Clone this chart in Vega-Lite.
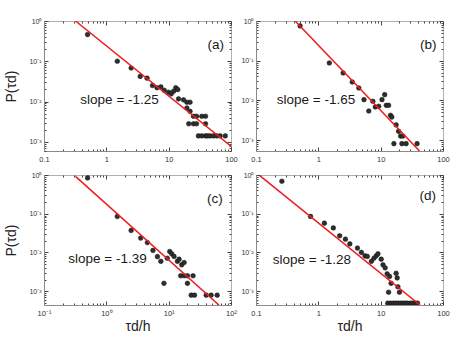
{
  "$schema": "https://vega.github.io/schema/vega-lite/v6.json",
  "padding": {"left": 4, "top": 16, "right": 5, "bottom": 5},
  "background": "white",
  "config": {
    "font": "Liberation Sans",
    "view": {"stroke": "#b0b0b0", "strokeWidth": 1},
    "axis": {"grid": false, "labelColor": "#333", "tickColor": "#444", "domainColor": "#8a8a8a", "titleColor": "#222", "titleFontWeight": "normal", "labelFont": "Liberation Sans", "titleFont": "Liberation Sans"}
  },
  "datasets": {
    "pts": [
      {"panel": "a", "t": 0.5, "p": 0.46}, {"panel": "a", "t": 1.5, "p": 0.1}, {"panel": "a", "t": 2.5, "p": 0.068}, {"panel": "a", "t": 3.5, "p": 0.042}, {"panel": "a", "t": 4.5, "p": 0.038}, {"panel": "a", "t": 5.5, "p": 0.025}, {"panel": "a", "t": 6.5, "p": 0.022}, {"panel": "a", "t": 7.5, "p": 0.023}, {"panel": "a", "t": 8.5, "p": 0.019}, {"panel": "a", "t": 10, "p": 0.017}, {"panel": "a", "t": 11, "p": 0.0155}, {"panel": "a", "t": 12, "p": 0.018}, {"panel": "a", "t": 13, "p": 0.022}, {"panel": "a", "t": 14, "p": 0.0198}, {"panel": "a", "t": 14.4, "p": 0.0116}, {"panel": "a", "t": 17.3, "p": 0.011}, {"panel": "a", "t": 19.6, "p": 0.0096}, {"panel": "a", "t": 22, "p": 0.0096}, {"panel": "a", "t": 19.6, "p": 0.0069}, {"panel": "a", "t": 22, "p": 0.0057}, {"panel": "a", "t": 25, "p": 0.0043}, {"panel": "a", "t": 28, "p": 0.0043}, {"panel": "a", "t": 34, "p": 0.0043}, {"panel": "a", "t": 39, "p": 0.0043}, {"panel": "a", "t": 21, "p": 0.0028}, {"panel": "a", "t": 25, "p": 0.0028}, {"panel": "a", "t": 28, "p": 0.0028}, {"panel": "a", "t": 39, "p": 0.0028}, {"panel": "a", "t": 30, "p": 0.0014}, {"panel": "a", "t": 34, "p": 0.0014}, {"panel": "a", "t": 39, "p": 0.0014}, {"panel": "a", "t": 42, "p": 0.0014}, {"panel": "a", "t": 46, "p": 0.0014}, {"panel": "a", "t": 52, "p": 0.0014}, {"panel": "a", "t": 59, "p": 0.0014}, {"panel": "a", "t": 67, "p": 0.0014}, {"panel": "a", "t": 81, "p": 0.0014},
      {"panel": "b", "t": 0.51, "p": 0.75}, {"panel": "b", "t": 1.5, "p": 0.0875}, {"panel": "b", "t": 2.5, "p": 0.049}, {"panel": "b", "t": 3.5, "p": 0.029}, {"panel": "b", "t": 4.46, "p": 0.0205}, {"panel": "b", "t": 5.4, "p": 0.0104}, {"panel": "b", "t": 6.45, "p": 0.0054}, {"panel": "b", "t": 7.5, "p": 0.0095}, {"panel": "b", "t": 8.2, "p": 0.0068}, {"panel": "b", "t": 9.3, "p": 0.0071}, {"panel": "b", "t": 10.5, "p": 0.0104}, {"panel": "b", "t": 11.6, "p": 0.0139}, {"panel": "b", "t": 12.3, "p": 0.0075}, {"panel": "b", "t": 13.4, "p": 0.0075}, {"panel": "b", "t": 14.4, "p": 0.0042}, {"panel": "b", "t": 15.1, "p": 0.0038}, {"panel": "b", "t": 17.7, "p": 0.0024}, {"panel": "b", "t": 19.4, "p": 0.00166}, {"panel": "b", "t": 20.9, "p": 0.00126}, {"panel": "b", "t": 22.7, "p": 0.00126}, {"panel": "b", "t": 16.3, "p": 0.00081}, {"panel": "b", "t": 21.9, "p": 0.00081}, {"panel": "b", "t": 25.6, "p": 0.00081}, {"panel": "b", "t": 38.4, "p": 0.00081},
      {"panel": "c", "t": 0.5, "p": 0.84}, {"panel": "c", "t": 1.5, "p": 0.085}, {"panel": "c", "t": 2.5, "p": 0.037}, {"panel": "c", "t": 3.56, "p": 0.0235}, {"panel": "c", "t": 4.55, "p": 0.018}, {"panel": "c", "t": 5.6, "p": 0.0113}, {"panel": "c", "t": 6.6, "p": 0.0078}, {"panel": "c", "t": 7.5, "p": 0.0059}, {"panel": "c", "t": 8.4, "p": 0.0016}, {"panel": "c", "t": 9.5, "p": 0.0071}, {"panel": "c", "t": 10.4, "p": 0.0106}, {"panel": "c", "t": 11.2, "p": 0.0092}, {"panel": "c", "t": 12.2, "p": 0.0079}, {"panel": "c", "t": 13.8, "p": 0.0059}, {"panel": "c", "t": 14.7, "p": 0.0067}, {"panel": "c", "t": 16.2, "p": 0.0048}, {"panel": "c", "t": 17.7, "p": 0.0055}, {"panel": "c", "t": 15.6, "p": 0.0025}, {"panel": "c", "t": 17.7, "p": 0.0025}, {"panel": "c", "t": 20, "p": 0.0025}, {"panel": "c", "t": 24.6, "p": 0.0025}, {"panel": "c", "t": 20, "p": 0.0016}, {"panel": "c", "t": 23, "p": 0.00079}, {"panel": "c", "t": 26, "p": 0.00079}, {"panel": "c", "t": 40, "p": 0.00079}, {"panel": "c", "t": 48, "p": 0.00079}, {"panel": "c", "t": 60, "p": 0.00079},
      {"panel": "d", "t": 0.26, "p": 0.69}, {"panel": "d", "t": 0.75, "p": 0.085}, {"panel": "d", "t": 1.25, "p": 0.057}, {"panel": "d", "t": 1.74, "p": 0.043}, {"panel": "d", "t": 2.2, "p": 0.027}, {"panel": "d", "t": 2.72, "p": 0.022}, {"panel": "d", "t": 3.2, "p": 0.0166}, {"panel": "d", "t": 4.24, "p": 0.013}, {"panel": "d", "t": 4.9, "p": 0.01}, {"panel": "d", "t": 5.6, "p": 0.0082}, {"panel": "d", "t": 6.1, "p": 0.0079}, {"panel": "d", "t": 7.1, "p": 0.0059}, {"panel": "d", "t": 7.8, "p": 0.0071}, {"panel": "d", "t": 8.5, "p": 0.0082}, {"panel": "d", "t": 9.05, "p": 0.0092}, {"panel": "d", "t": 10.2, "p": 0.0067}, {"panel": "d", "t": 10.9, "p": 0.0048}, {"panel": "d", "t": 11.8, "p": 0.004}, {"panel": "d", "t": 12.7, "p": 0.0028}, {"panel": "d", "t": 13.9, "p": 0.0024}, {"panel": "d", "t": 14.7, "p": 0.0016}, {"panel": "d", "t": 13.4, "p": 0.00094}, {"panel": "d", "t": 17.7, "p": 0.0029}, {"panel": "d", "t": 18.4, "p": 0.0022}, {"panel": "d", "t": 18.9, "p": 0.0013}, {"panel": "d", "t": 20, "p": 0.00094}, {"panel": "d", "t": 13, "p": 0.00049}, {"panel": "d", "t": 14.5, "p": 0.00049}, {"panel": "d", "t": 16, "p": 0.00049}, {"panel": "d", "t": 17.5, "p": 0.00049}, {"panel": "d", "t": 19, "p": 0.00049}, {"panel": "d", "t": 21, "p": 0.00049}, {"panel": "d", "t": 23, "p": 0.00049}, {"panel": "d", "t": 25, "p": 0.00049}, {"panel": "d", "t": 27, "p": 0.00049}, {"panel": "d", "t": 30, "p": 0.00049}, {"panel": "d", "t": 33, "p": 0.00049}, {"panel": "d", "t": 36, "p": 0.00049}, {"panel": "d", "t": 39, "p": 0.00049}
    ],
    "fit": [
      {"panel": "a", "t": 0.32, "p": 1.0}, {"panel": "a", "t": 100, "p": 0.00078},
      {"panel": "b", "t": 0.425, "p": 1.0}, {"panel": "b", "t": 42, "p": 0.00053},
      {"panel": "c", "t": 0.32, "p": 0.92}, {"panel": "c", "t": 64, "p": 0.00044},
      {"panel": "d", "t": 0.115, "p": 0.96}, {"panel": "d", "t": 42.8, "p": 0.00044}
    ],
    "notes": [
      {"panel": "a", "t": 0.383, "p": 0.0111, "s": "slope = -1.25"}, {"panel": "a", "t": 42, "p": 0.258, "s": "(a)"},
      {"panel": "b", "t": 0.216, "p": 0.01, "s": "slope = -1.65"}, {"panel": "b", "t": 42.8, "p": 0.253, "s": "(b)"},
      {"panel": "c", "t": 0.245, "p": 0.00685, "s": "slope = -1.39"}, {"panel": "c", "t": 41.3, "p": 0.24, "s": "(c)"},
      {"panel": "d", "t": 0.185, "p": 0.00646, "s": "slope = -1.28"}, {"panel": "d", "t": 41.9, "p": 0.28, "s": "(d)"}
    ]
  },
  "columns": 2,
  "bounds": "flush",
  "spacing": {"row": 24, "column": 25},
  "concat": [
        {
          "width": 187, "height": 130,
          "resolve": {"axis": {"x": "independent", "y": "independent"}},
          "layer": [
            {
              "data": {"name": "pts"},
              "transform": [{"filter": "datum.panel == 'a'"}],
              "mark": {"type": "point", "filled": true, "size": 22, "fill": "#2e2e2e", "stroke": "#111", "strokeWidth": 0.5, "opacity": 1, "clip": true},
              "encoding": {
                "x": {"field": "t", "type": "quantitative", "scale": {"type": "log", "domain": [0.1, 100], "nice": false},
                  "axis": {"orient": "bottom", "title": null, "values": [0.1,0.2,0.3,0.4,0.5,0.6,0.7,0.8,0.9,1,2,3,4,5,6,7,8,9,10,20,30,40,50,60,70,80,90,100], "labelExpr": "datum.value==0.1?'0.1':datum.value==1?'1':datum.value==10?'10':datum.value==100?'100':''", "labelFlush": false, "labelFontSize": 7.5, "labelPadding": 8, "tickSize": {"condition": {"test": "abs(log(datum.value)/LN10-round(log(datum.value)/LN10))<0.001", "value": -4}, "value": -2}}},
                "y": {"field": "p", "type": "quantitative", "scale": {"type": "log", "domain": [0.00059, 1], "nice": false},
                  "axis": {"orient": "left", "title": "P(τd)", "titleFontSize": 14, "titlePadding": 10, "values": [0.0006,0.0007,0.0008,0.0009,0.001,0.002,0.003,0.004,0.005,0.006,0.007,0.008,0.009,0.01,0.02,0.03,0.04,0.05,0.06,0.07,0.08,0.09,0.1,0.2,0.3,0.4,0.5,0.6,0.7,0.8,0.9,1], "labelExpr": "datum.value==1?'10⁰':datum.value==0.1?'10⁻¹':datum.value==0.01?'10⁻²':datum.value==0.001?'10⁻³':''", "labelFontSize": 7, "labelPadding": 7, "tickSize": {"condition": {"test": "abs(log(datum.value)/LN10-round(log(datum.value)/LN10))<0.001", "value": -4}, "value": -2}}}
              }
            },
            {
              "data": {"name": "fit"},
              "transform": [{"filter": "datum.panel == 'a'"}],
              "mark": {"type": "line", "color": "#ee1c1c", "strokeWidth": 1.5, "clip": true},
              "encoding": {
                "x": {"field": "t", "type": "quantitative", "scale": {"type": "log", "domain": [0.1, 100], "nice": false},
                  "axis": {"orient": "top", "title": null, "labels": false, "domain": false, "values": [0.1,0.2,0.3,0.4,0.5,0.6,0.7,0.8,0.9,1,2,3,4,5,6,7,8,9,10,20,30,40,50,60,70,80,90,100], "tickSize": {"condition": {"test": "abs(log(datum.value)/LN10-round(log(datum.value)/LN10))<0.001", "value": -4}, "value": -2}}},
                "y": {"field": "p", "type": "quantitative", "scale": {"type": "log", "domain": [0.00059, 1], "nice": false},
                  "axis": {"orient": "right", "title": null, "labels": false, "domain": false, "values": [0.0006,0.0007,0.0008,0.0009,0.001,0.002,0.003,0.004,0.005,0.006,0.007,0.008,0.009,0.01,0.02,0.03,0.04,0.05,0.06,0.07,0.08,0.09,0.1,0.2,0.3,0.4,0.5,0.6,0.7,0.8,0.9,1], "tickSize": {"condition": {"test": "abs(log(datum.value)/LN10-round(log(datum.value)/LN10))<0.001", "value": -4}, "value": -2}}}
              }
            },
            {
              "data": {"name": "notes"},
              "transform": [{"filter": "datum.panel == 'a'"}],
              "mark": {"type": "text", "align": "left", "baseline": "middle", "fontSize": 13.5, "font": "Liberation Sans", "color": "#1a1a1a"},
              "encoding": {
                "x": {"field": "t", "type": "quantitative", "scale": {"type": "log", "domain": [0.1, 100], "nice": false}, "axis": null},
                "y": {"field": "p", "type": "quantitative", "scale": {"type": "log", "domain": [0.00059, 1], "nice": false}, "axis": null},
                "text": {"field": "s"}
              }
            }
          ]
        },
        {
          "width": 187, "height": 130,
          "resolve": {"axis": {"x": "independent", "y": "independent"}},
          "layer": [
            {
              "data": {"name": "pts"},
              "transform": [{"filter": "datum.panel == 'b'"}],
              "mark": {"type": "point", "filled": true, "size": 22, "fill": "#2e2e2e", "stroke": "#111", "strokeWidth": 0.5, "opacity": 1, "clip": true},
              "encoding": {
                "x": {"field": "t", "type": "quantitative", "scale": {"type": "log", "domain": [0.1, 100], "nice": false},
                  "axis": {"orient": "bottom", "title": null, "values": [0.1,0.2,0.3,0.4,0.5,0.6,0.7,0.8,0.9,1,2,3,4,5,6,7,8,9,10,20,30,40,50,60,70,80,90,100], "labelExpr": "datum.value==0.1?'0.1':datum.value==1?'1':datum.value==10?'10':datum.value==100?'100':''", "labelFlush": false, "labelFontSize": 7.5, "labelPadding": 8, "tickSize": {"condition": {"test": "abs(log(datum.value)/LN10-round(log(datum.value)/LN10))<0.001", "value": -4}, "value": -2}}},
                "y": {"field": "p", "type": "quantitative", "scale": {"type": "log", "domain": [0.00053, 1], "nice": false},
                  "axis": {"orient": "left", "title": null, "values": [0.0006,0.0007,0.0008,0.0009,0.001,0.002,0.003,0.004,0.005,0.006,0.007,0.008,0.009,0.01,0.02,0.03,0.04,0.05,0.06,0.07,0.08,0.09,0.1,0.2,0.3,0.4,0.5,0.6,0.7,0.8,0.9,1], "labelExpr": "datum.value==1?'10⁰':datum.value==0.1?'10⁻¹':datum.value==0.01?'10⁻²':datum.value==0.001?'10⁻³':''", "labelFontSize": 7, "labelPadding": 7, "tickSize": {"condition": {"test": "abs(log(datum.value)/LN10-round(log(datum.value)/LN10))<0.001", "value": -4}, "value": -2}}}
              }
            },
            {
              "data": {"name": "fit"},
              "transform": [{"filter": "datum.panel == 'b'"}],
              "mark": {"type": "line", "color": "#ee1c1c", "strokeWidth": 1.5, "clip": true},
              "encoding": {
                "x": {"field": "t", "type": "quantitative", "scale": {"type": "log", "domain": [0.1, 100], "nice": false},
                  "axis": {"orient": "top", "title": null, "labels": false, "domain": false, "values": [0.1,0.2,0.3,0.4,0.5,0.6,0.7,0.8,0.9,1,2,3,4,5,6,7,8,9,10,20,30,40,50,60,70,80,90,100], "tickSize": {"condition": {"test": "abs(log(datum.value)/LN10-round(log(datum.value)/LN10))<0.001", "value": -4}, "value": -2}}},
                "y": {"field": "p", "type": "quantitative", "scale": {"type": "log", "domain": [0.00053, 1], "nice": false},
                  "axis": {"orient": "right", "title": null, "labels": false, "domain": false, "values": [0.0006,0.0007,0.0008,0.0009,0.001,0.002,0.003,0.004,0.005,0.006,0.007,0.008,0.009,0.01,0.02,0.03,0.04,0.05,0.06,0.07,0.08,0.09,0.1,0.2,0.3,0.4,0.5,0.6,0.7,0.8,0.9,1], "tickSize": {"condition": {"test": "abs(log(datum.value)/LN10-round(log(datum.value)/LN10))<0.001", "value": -4}, "value": -2}}}
              }
            },
            {
              "data": {"name": "notes"},
              "transform": [{"filter": "datum.panel == 'b'"}],
              "mark": {"type": "text", "align": "left", "baseline": "middle", "fontSize": 13.5, "font": "Liberation Sans", "color": "#1a1a1a"},
              "encoding": {
                "x": {"field": "t", "type": "quantitative", "scale": {"type": "log", "domain": [0.1, 100], "nice": false}, "axis": null},
                "y": {"field": "p", "type": "quantitative", "scale": {"type": "log", "domain": [0.00053, 1], "nice": false}, "axis": null},
                "text": {"field": "s"}
              }
            }
          ]
        },
        {
          "width": 187, "height": 130,
          "resolve": {"axis": {"x": "independent", "y": "independent"}},
          "layer": [
            {
              "data": {"name": "pts"},
              "transform": [{"filter": "datum.panel == 'c'"}],
              "mark": {"type": "point", "filled": true, "size": 22, "fill": "#2e2e2e", "stroke": "#111", "strokeWidth": 0.5, "opacity": 1, "clip": true},
              "encoding": {
                "x": {"field": "t", "type": "quantitative", "scale": {"type": "log", "domain": [0.1, 100], "nice": false},
                  "axis": {"orient": "bottom", "title": "τd/h", "titleFontSize": 14, "titlePadding": 3, "values": [0.1,0.2,0.3,0.4,0.5,0.6,0.7,0.8,0.9,1,2,3,4,5,6,7,8,9,10,20,30,40,50,60,70,80,90,100], "labelExpr": "datum.value==0.1?'10⁻¹':datum.value==1?'10⁰':datum.value==10?'10¹':datum.value==100?'10²':''", "labelFlush": false, "labelFontSize": 7.5, "labelPadding": 8, "tickSize": {"condition": {"test": "abs(log(datum.value)/LN10-round(log(datum.value)/LN10))<0.001", "value": -4}, "value": -2}}},
                "y": {"field": "p", "type": "quantitative", "scale": {"type": "log", "domain": [0.00044, 1], "nice": false},
                  "axis": {"orient": "left", "title": "P(τd)", "titleFontSize": 14, "titlePadding": 10, "values": [0.0005,0.0006,0.0007,0.0008,0.0009,0.001,0.002,0.003,0.004,0.005,0.006,0.007,0.008,0.009,0.01,0.02,0.03,0.04,0.05,0.06,0.07,0.08,0.09,0.1,0.2,0.3,0.4,0.5,0.6,0.7,0.8,0.9,1], "labelExpr": "datum.value==1?'10⁰':datum.value==0.1?'10⁻¹':datum.value==0.01?'10⁻²':datum.value==0.001?'10⁻³':''", "labelFontSize": 7, "labelPadding": 7, "tickSize": {"condition": {"test": "abs(log(datum.value)/LN10-round(log(datum.value)/LN10))<0.001", "value": -4}, "value": -2}}}
              }
            },
            {
              "data": {"name": "fit"},
              "transform": [{"filter": "datum.panel == 'c'"}],
              "mark": {"type": "line", "color": "#ee1c1c", "strokeWidth": 1.5, "clip": true},
              "encoding": {
                "x": {"field": "t", "type": "quantitative", "scale": {"type": "log", "domain": [0.1, 100], "nice": false},
                  "axis": {"orient": "top", "title": null, "labels": false, "domain": false, "values": [0.1,0.2,0.3,0.4,0.5,0.6,0.7,0.8,0.9,1,2,3,4,5,6,7,8,9,10,20,30,40,50,60,70,80,90,100], "tickSize": {"condition": {"test": "abs(log(datum.value)/LN10-round(log(datum.value)/LN10))<0.001", "value": -4}, "value": -2}}},
                "y": {"field": "p", "type": "quantitative", "scale": {"type": "log", "domain": [0.00044, 1], "nice": false},
                  "axis": {"orient": "right", "title": null, "labels": false, "domain": false, "values": [0.0005,0.0006,0.0007,0.0008,0.0009,0.001,0.002,0.003,0.004,0.005,0.006,0.007,0.008,0.009,0.01,0.02,0.03,0.04,0.05,0.06,0.07,0.08,0.09,0.1,0.2,0.3,0.4,0.5,0.6,0.7,0.8,0.9,1], "tickSize": {"condition": {"test": "abs(log(datum.value)/LN10-round(log(datum.value)/LN10))<0.001", "value": -4}, "value": -2}}}
              }
            },
            {
              "data": {"name": "notes"},
              "transform": [{"filter": "datum.panel == 'c'"}],
              "mark": {"type": "text", "align": "left", "baseline": "middle", "fontSize": 13.5, "font": "Liberation Sans", "color": "#1a1a1a"},
              "encoding": {
                "x": {"field": "t", "type": "quantitative", "scale": {"type": "log", "domain": [0.1, 100], "nice": false}, "axis": null},
                "y": {"field": "p", "type": "quantitative", "scale": {"type": "log", "domain": [0.00044, 1], "nice": false}, "axis": null},
                "text": {"field": "s"}
              }
            }
          ]
        },
        {
          "width": 187, "height": 130,
          "resolve": {"axis": {"x": "independent", "y": "independent"}},
          "layer": [
            {
              "data": {"name": "pts"},
              "transform": [{"filter": "datum.panel == 'd'"}],
              "mark": {"type": "point", "filled": true, "size": 22, "fill": "#2e2e2e", "stroke": "#111", "strokeWidth": 0.5, "opacity": 1, "clip": true},
              "encoding": {
                "x": {"field": "t", "type": "quantitative", "scale": {"type": "log", "domain": [0.1, 100], "nice": false},
                  "axis": {"orient": "bottom", "title": "τd/h", "titleFontSize": 14, "titlePadding": 3, "values": [0.1,0.2,0.3,0.4,0.5,0.6,0.7,0.8,0.9,1,2,3,4,5,6,7,8,9,10,20,30,40,50,60,70,80,90,100], "labelExpr": "datum.value==0.1?'0.1':datum.value==1?'1':datum.value==10?'10':datum.value==100?'100':''", "labelFlush": false, "labelFontSize": 7.5, "labelPadding": 8, "tickSize": {"condition": {"test": "abs(log(datum.value)/LN10-round(log(datum.value)/LN10))<0.001", "value": -4}, "value": -2}}},
                "y": {"field": "p", "type": "quantitative", "scale": {"type": "log", "domain": [0.00044, 1], "nice": false},
                  "axis": {"orient": "left", "title": null, "values": [0.0005,0.0006,0.0007,0.0008,0.0009,0.001,0.002,0.003,0.004,0.005,0.006,0.007,0.008,0.009,0.01,0.02,0.03,0.04,0.05,0.06,0.07,0.08,0.09,0.1,0.2,0.3,0.4,0.5,0.6,0.7,0.8,0.9,1], "labelExpr": "datum.value==1?'10⁰':datum.value==0.1?'10⁻¹':datum.value==0.01?'10⁻²':datum.value==0.001?'10⁻³':''", "labelFontSize": 7, "labelPadding": 7, "tickSize": {"condition": {"test": "abs(log(datum.value)/LN10-round(log(datum.value)/LN10))<0.001", "value": -4}, "value": -2}}}
              }
            },
            {
              "data": {"name": "fit"},
              "transform": [{"filter": "datum.panel == 'd'"}],
              "mark": {"type": "line", "color": "#ee1c1c", "strokeWidth": 1.5, "clip": true},
              "encoding": {
                "x": {"field": "t", "type": "quantitative", "scale": {"type": "log", "domain": [0.1, 100], "nice": false},
                  "axis": {"orient": "top", "title": null, "labels": false, "domain": false, "values": [0.1,0.2,0.3,0.4,0.5,0.6,0.7,0.8,0.9,1,2,3,4,5,6,7,8,9,10,20,30,40,50,60,70,80,90,100], "tickSize": {"condition": {"test": "abs(log(datum.value)/LN10-round(log(datum.value)/LN10))<0.001", "value": -4}, "value": -2}}},
                "y": {"field": "p", "type": "quantitative", "scale": {"type": "log", "domain": [0.00044, 1], "nice": false},
                  "axis": {"orient": "right", "title": null, "labels": false, "domain": false, "values": [0.0005,0.0006,0.0007,0.0008,0.0009,0.001,0.002,0.003,0.004,0.005,0.006,0.007,0.008,0.009,0.01,0.02,0.03,0.04,0.05,0.06,0.07,0.08,0.09,0.1,0.2,0.3,0.4,0.5,0.6,0.7,0.8,0.9,1], "tickSize": {"condition": {"test": "abs(log(datum.value)/LN10-round(log(datum.value)/LN10))<0.001", "value": -4}, "value": -2}}}
              }
            },
            {
              "data": {"name": "notes"},
              "transform": [{"filter": "datum.panel == 'd'"}],
              "mark": {"type": "text", "align": "left", "baseline": "middle", "fontSize": 13.5, "font": "Liberation Sans", "color": "#1a1a1a"},
              "encoding": {
                "x": {"field": "t", "type": "quantitative", "scale": {"type": "log", "domain": [0.1, 100], "nice": false}, "axis": null},
                "y": {"field": "p", "type": "quantitative", "scale": {"type": "log", "domain": [0.00044, 1], "nice": false}, "axis": null},
                "text": {"field": "s"}
              }
            }
          ]
        }
  ]
}
